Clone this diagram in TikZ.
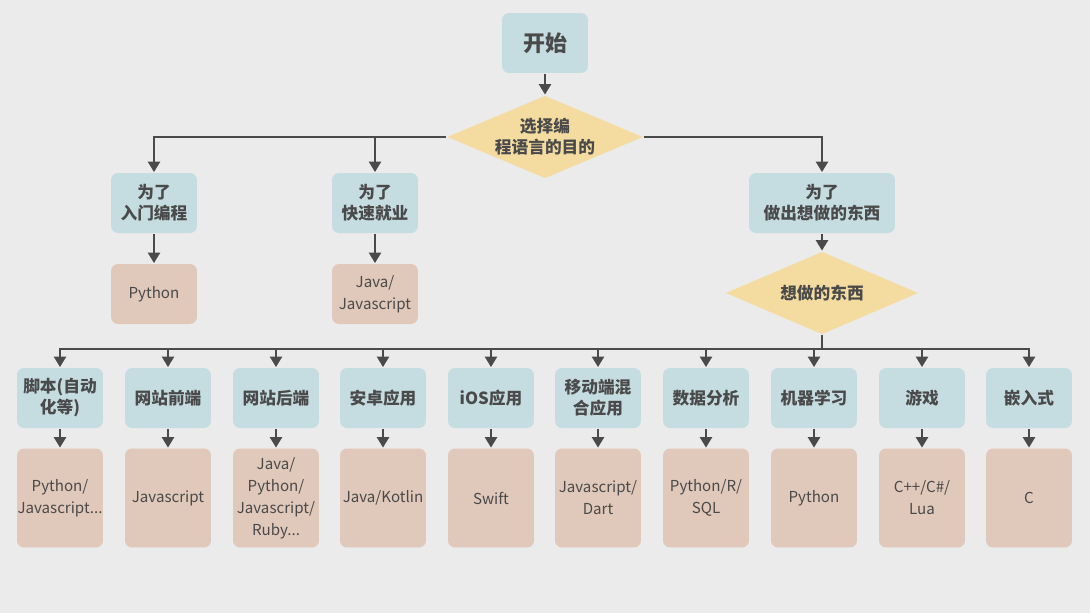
\documentclass[tikz,border=0pt]{standalone}
\usepackage{fontspec}
\setmainfont{Noto Sans CJK SC}
\usepackage{xcolor}
\usetikzlibrary{shapes.geometric,arrows.meta}

\definecolor{paper}{HTML}{EBEBEB}
\definecolor{aimblue}{HTML}{C5DCE0}
\definecolor{langtan}{HTML}{E0C8BA}
\definecolor{sand}{HTML}{F4DCA0}
\definecolor{ink}{HTML}{4A4A4A}

\begin{document}
\begin{tikzpicture}[x=0.02cm,y=-0.02cm,->,>={Triangle[width=7pt,length=6pt]},line width=1.1pt,color=ink]
  \tikzstyle{start}=[rectangle,rounded corners=4pt,fill=aimblue,minimum width=1.72cm,minimum height=1.2cm,align=center,font=\bfseries\fontsize{12.5}{15}\selectfont]
  \tikzstyle{aim}=[rectangle,rounded corners=4pt,fill=aimblue,minimum width=1.72cm,minimum height=1.2cm,inner sep=0pt,align=center,font=\bfseries\fontsize{9.5}{12}\selectfont]
  \tikzstyle{lang}=[rectangle,rounded corners=4pt,fill=langtan,minimum width=1.72cm,minimum height=1.2cm,inner sep=0pt,align=center,font=\fontsize{8.6}{12.5}\selectfont]
  \tikzstyle{choice}=[diamond,fill=sand,inner sep=0pt,aspect=2.35,align=center,font=\bfseries\fontsize{9.5}{12}\selectfont]

  \fill[paper] (0,0) rectangle (1090,613);
  \useasboundingbox (0,0) rectangle (1090,613);

  \node[start] (start) at (545,43) {开始};
  \node[choice,minimum width=3.92cm,minimum height=1.66cm] (goal) at (545,137) {选择编\\程语言的目的};

  \node[aim] (learn) at (154,203) {为了\\入门编程};
  \node[aim] (job) at (375,203) {为了\\快速就业};
  \node[aim,minimum width=2.92cm] (make) at (822,203) {为了\\做出想做的东西};

  \node[lang] (py) at (154,294) {Python};
  \node[lang] (java) at (375,294) {Java/\\Javascript};
  \node[choice,minimum width=3.86cm,minimum height=1.66cm] (want) at (822,293) {想做的东西};
  \coordinate (bar) at (822,349);

  \node[aim] (script) at (60,398) {脚本(自动\\化等)};
  \node[aim] (front) at (168,398) {网站前端};
  \node[aim] (back) at (276,398) {网站后端};
  \node[aim] (android) at (383,398) {安卓应用};
  \node[aim] (ios) at (491,398) {iOS应用};
  \node[aim] (mobile) at (598,398) {移动端混\\合应用};
  \node[aim] (data) at (706,398) {数据分析};
  \node[aim] (ml) at (814,398) {机器学习};
  \node[aim] (game) at (922,398) {游戏};
  \node[aim] (embed) at (1029,398) {嵌入式};

  \node[lang,minimum height=1.98cm] (scriptlang) at (60,498) {Python/\\Javascript...};
  \node[lang,minimum height=1.98cm] (frontlang) at (168,498) {Javascript};
  \node[lang,minimum height=1.98cm] (backlang) at (276,498) {Java/\\Python/\\Javascript/\\Ruby...};
  \node[lang,minimum height=1.98cm] (androidlang) at (383,498) {Java/Kotlin};
  \node[lang,minimum height=1.98cm] (ioslang) at (491,498) {Swift};
  \node[lang,minimum height=1.98cm] (mobilelang) at (598,498) {Javascript/\\Dart};
  \node[lang,minimum height=1.98cm] (datalang) at (706,498) {Python/R/\\SQL};
  \node[lang,minimum height=1.98cm] (mllang) at (814,498) {Python};
  \node[lang,minimum height=1.98cm] (gamelang) at (922,498) {C++/C\#/\\Lua};
  \node[lang,minimum height=1.98cm] (embedlang) at (1029,498) {C};

  \draw (start) -- (goal);
  \draw (goal.west) -| (learn.north);
  \draw (goal.west) -| (job.north);
  \draw (goal.east) -| (make.north);
  \draw (learn) -- (py);
  \draw (job) -- (java);
  \draw (make) -- (want);

  \draw[-] (want.south) -- (bar);
  \draw (bar) -| (script.north);
  \draw (bar) -| (front.north);
  \draw (bar) -| (back.north);
  \draw (bar) -| (android.north);
  \draw (bar) -| (ios.north);
  \draw (bar) -| (mobile.north);
  \draw (bar) -| (data.north);
  \draw (bar) -| (ml.north);
  \draw (bar) -| (game.north);
  \draw (bar) -| (embed.north);

  \draw (script) -- (scriptlang);
  \draw (front) -- (frontlang);
  \draw (back) -- (backlang);
  \draw (android) -- (androidlang);
  \draw (ios) -- (ioslang);
  \draw (mobile) -- (mobilelang);
  \draw (data) -- (datalang);
  \draw (ml) -- (mllang);
  \draw (game) -- (gamelang);
  \draw (embed) -- (embedlang);

\end{tikzpicture}
\end{document}
